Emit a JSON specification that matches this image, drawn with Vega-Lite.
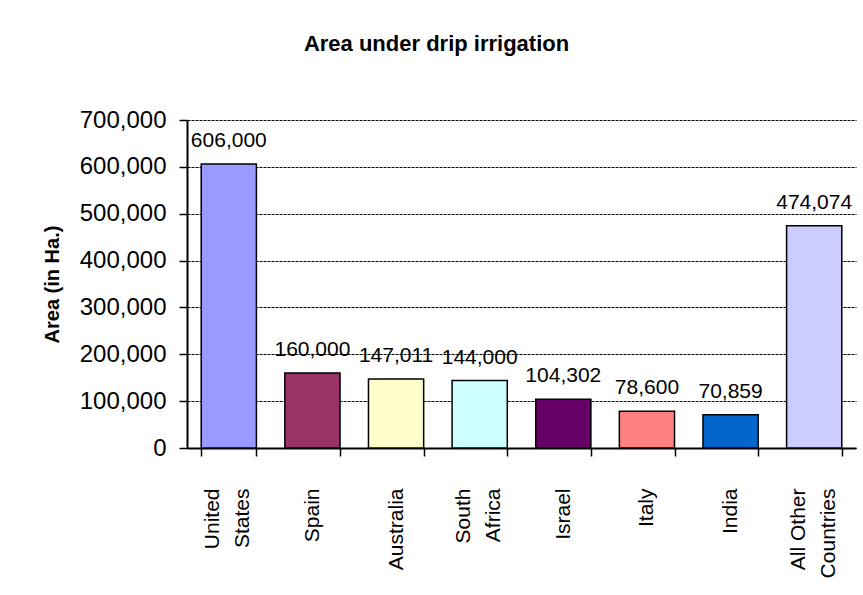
{
  "$schema": "https://vega.github.io/schema/vega-lite/v6.json",
  "autosize": "none",
  "width": 669,
  "height": 328,
  "padding": {"left": 187, "top": 120, "right": 7, "bottom": 147},
  "background": "white",
  "title": {
    "text": "Area under drip irrigation",
    "font": "Liberation Sans",
    "fontSize": 22,
    "fontWeight": "bold",
    "color": "black",
    "anchor": "middle",
    "frame": "group",
    "dx": -85,
    "baseline": "alphabetic",
    "offset": 35
  },
  "data": {
    "values": [
      {"country": "United States", "area": 606000},
      {"country": "Spain", "area": 160000},
      {"country": "Australia", "area": 147011},
      {"country": "South Africa", "area": 144000},
      {"country": "Israel", "area": 104302},
      {"country": "Italy", "area": 78600},
      {"country": "India", "area": 70859},
      {"country": "All Other Countries", "area": 474074}
    ]
  },
  "encoding": {
    "x": {
      "field": "country",
      "type": "nominal",
      "sort": null,
      "scale": {"paddingInner": 0.34, "paddingOuter": 0.17},
      "axis": {
        "title": null,
        "labelAngle": -90,
        "labelAlign": "right",
        "labelBaseline": "middle",
        "labelFont": "Liberation Sans",
        "labelFontSize": 21,
        "labelColor": "black",
        "labelPadding": 32,
        "labelLineHeight": 30,
        "labelOffset": {
          "condition": {"test": "indexof(['United States', 'South Africa', 'All Other Countries'], datum.value) >= 0", "value": -16},
          "value": 0
        },
        "labelExpr": "datum.label == 'All Other Countries' ? ['All Other', 'Countries'] : split(datum.label, ' ')",
        "tickBand": "extent",
        "tickSize": 8,
        "tickColor": "black",
        "tickWidth": 1.5,
        "domainColor": "black",
        "domainWidth": 2,
        "grid": false
      }
    },
    "y": {
      "field": "area",
      "type": "quantitative",
      "scale": {"domain": [0, 700000], "nice": false},
      "axis": {
        "title": "Area (in Ha.)",
        "titleFont": "Liberation Sans",
        "titleFontSize": 20,
        "titleFontWeight": "bold",
        "titleColor": "black",
        "titlePadding": 17,
        "values": [0, 100000, 200000, 300000, 400000, 500000, 600000, 700000],
        "format": ",.0f",
        "labelFont": "Liberation Sans",
        "labelFontSize": 24,
        "labelColor": "black",
        "labelPadding": 13,
        "tickSize": 8,
        "tickColor": "black",
        "tickWidth": 1.5,
        "domainColor": "black",
        "domainWidth": 2,
        "grid": true,
        "gridColor": "black",
        "gridDash": [3, 1],
        "gridWidth": 1
      }
    }
  },
  "layer": [
    {
      "mark": {"type": "bar", "stroke": "black", "strokeWidth": 1.5},
      "encoding": {
        "color": {
          "field": "country",
          "type": "nominal",
          "legend": null,
          "scale": {
            "domain": ["United States", "Spain", "Australia", "South Africa", "Israel", "Italy", "India", "All Other Countries"],
            "range": ["#9999FF", "#993366", "#FFFFCC", "#CCFFFF", "#660066", "#FF8080", "#0066CC", "#CCCCFF"]
          }
        }
      }
    },
    {
      "mark": {
        "type": "text",
        "font": "Liberation Sans",
        "fontSize": 21,
        "color": "black",
        "baseline": "alphabetic",
        "dy": -17
      },
      "encoding": {
        "text": {"field": "area", "type": "quantitative", "format": ","}
      }
    }
  ],
  "config": {
    "view": {"stroke": null}
  }
}
